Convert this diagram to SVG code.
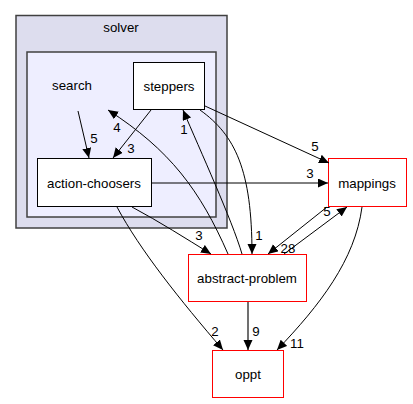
<svg xmlns="http://www.w3.org/2000/svg" width="413" height="404" viewBox="0 0 413 404">
<style>
text{font-family:"Liberation Sans",Arial,sans-serif;font-size:13.3px;fill:#000;text-anchor:middle}
.e{fill:none;stroke:#000;stroke-width:1}
.n{fill:#fff;stroke:#000;stroke-width:1}
.x{fill:#fff;stroke:#f00;stroke-width:1}
</style>
<defs>
<marker id="a" markerUnits="userSpaceOnUse" markerWidth="12" markerHeight="10" refX="10" refY="4.5" orient="auto">
<path d="M0,0 L10,4.5 L0,9 z" fill="#000"/>
</marker>
</defs>
<g id="cluster-solver">
<rect x="16" y="15.5" width="211" height="212.5" fill="#ddddee" stroke="#404040" stroke-width="1.5"/>
<text x="121" y="32">solver</text>
</g>
<g id="cluster-search">
<rect x="27" y="52" width="189" height="165" fill="#eeeeff" stroke="#404040" stroke-width="1.5"/>
</g>
<g id="search"><text x="72" y="90">search</text></g>
<g id="steppers"><rect class="n" x="133.5" y="62.5" width="71" height="47"/><text x="169" y="91">steppers</text></g>
<g id="action-choosers"><rect class="n" x="37.5" y="158.5" width="114" height="48"/><text x="94" y="188">action-choosers</text></g>
<g id="mappings"><rect class="x" x="328.5" y="158.5" width="78" height="48"/><text x="367" y="188">mappings</text></g>
<g id="abstract-problem"><rect class="x" x="188.5" y="254.5" width="118" height="47"/><text x="247" y="283">abstract-problem</text></g>
<g id="oppt"><rect class="x" x="212.5" y="350.5" width="71" height="47"/><text x="248" y="379">oppt</text></g>
<g id="connectors">
<path class="e" d="M78,111 L89,158" marker-end="url(#a)"/>
<text x="94" y="143">5</text>
<path class="e" d="M151,110 L113,158" marker-end="url(#a)"/>
<text x="131" y="153">3</text>
<path class="e" d="M228,254 C200,190 170,150 108,110" marker-end="url(#a)"/>
<text x="117" y="132">4</text>
<path class="e" d="M242,254 C232,220 200,150 183,110" marker-end="url(#a)"/>
<text x="184" y="134">1</text>
<path class="e" d="M200,110 C235,135 252,170 252,254" marker-end="url(#a)"/>
<text x="259" y="240">1</text>
<path class="e" d="M205,106 L329,163" marker-end="url(#a)"/>
<text x="315" y="151">5</text>
<path class="e" d="M152,183 L328,183" marker-end="url(#a)"/>
<text x="310" y="178">3</text>
<path class="e" d="M132,207 C160,222 185,238 211,254" marker-end="url(#a)"/>
<text x="199" y="240">3</text>
<path class="e" d="M117,207 C140,250 180,300 223,350" marker-end="url(#a)"/>
<text x="215" y="336">2</text>
<path class="e" d="M327,207 L268,254" marker-end="url(#a)"/>
<text x="288" y="253">28</text>
<path class="e" d="M284,254 L347,207" marker-end="url(#a)"/>
<text x="327" y="216">5</text>
<path d="M248,302 L248,350" fill="none" stroke="#404040" stroke-width="1.5" marker-end="url(#a)"/>
<text x="256" y="336">9</text>
<path class="e" d="M362,207 C355,260 320,305 277,350" marker-end="url(#a)"/>
<text x="297" y="348">11</text>
</g>
</svg>
